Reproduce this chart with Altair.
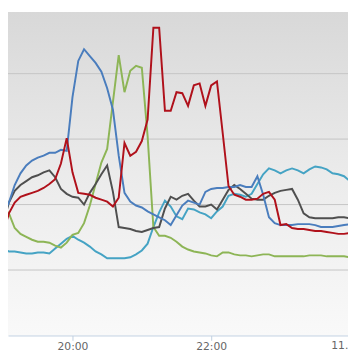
import altair as alt
import pandas as pd

# minutes after 19:00, one reading every 5 minutes (19:00 .. 24:00)
MINUTES = list(range(0, 301, 5))

BLUE = [125, 136, 154, 166, 174, 179, 182, 184, 187, 187, 190, 189, 244, 281, 293, 286,
        279, 270, 253, 231, 184, 146, 137, 133, 131, 127, 124, 121, 118, 113, 123, 133,
        138, 136, 134, 147, 150, 151, 151, 152, 152, 154, 152, 152, 163, 144, 121, 115,
        113, 113, 113, 114, 114, 114, 113, 111, 111, 111, 112, 113, 114]
CYAN = [89, 86, 86, 85, 84, 84, 85, 85, 84, 89, 94, 99, 102, 98, 95, 91,
        86, 83, 79, 79, 79, 79, 80, 83, 87, 94, 111, 126, 138, 132, 122, 119,
        130, 129, 126, 124, 120, 127, 132, 143, 145, 144, 142, 145, 155, 165, 171, 169,
        166, 169, 171, 169, 166, 170, 173, 172, 170, 166, 165, 163, 158]
GREEN = [131, 125, 110, 104, 101, 98, 96, 96, 95, 92, 90, 95, 103, 105, 115, 133,
         155, 177, 191, 239, 287, 249, 271, 276, 274, 204, 111, 102, 102, 100, 96, 91,
         88, 86, 85, 84, 82, 81, 85, 85, 83, 82, 82, 81, 82, 83, 83, 81,
         81, 81, 81, 81, 81, 82, 82, 82, 81, 81, 81, 81, 80]
RED = [105, 125, 136, 142, 144, 146, 148, 151, 155, 160, 176, 202, 167, 146, 145, 144,
       141, 139, 137, 132, 141, 197, 184, 188, 199, 221, 315, 315, 230, 230, 249, 248,
       235, 256, 258, 235, 256, 260, 207, 153, 144, 142, 139, 139, 140, 145, 147, 139,
       113, 114, 110, 109, 109, 108, 107, 107, 106, 105, 104, 104, 105]
GRAY = [115, 136, 148, 154, 158, 162, 164, 167, 169, 162, 150, 145, 142, 141, 134, 146,
        155, 165, 174, 147, 111, 110, 109, 107, 106, 108, 110, 111, 130, 142, 139, 143,
        145, 138, 132, 132, 134, 129, 139, 149, 154, 150, 145, 140, 139, 139, 143, 146,
        148, 149, 150, 139, 125, 121, 120, 120, 120, 120, 121, 121, 120]

SERIES = ["cyan", "green", "gray", "blue", "red"]
COLORS = ["#45a3c4", "#8db556", "#4f4f4f", "#4a7dbd", "#b0111b"]
VALUES = {"cyan": CYAN, "green": GREEN, "gray": GRAY, "blue": BLUE, "red": RED}

GRID = [67, 134, 201, 268]
TICKS = [60, 180]
TICK_LABELS = ["20:00", "22:00"]
EDGE_TICK = [300]
EDGE_LABEL = ["11. Jun"]

rows = []
for order, name in enumerate(SERIES):
    for m, v in zip(MINUTES, VALUES[name]):
        rows.append({"minute": m, "value": v, "series": name, "order": order})
df = pd.DataFrame(rows)

W, H = 348, 331
xscale = alt.Scale(domain=[4.2, 298.4], nice=False, zero=False)
yscale = alt.Scale(domain=[0, 331], nice=False, zero=False)

label_expr = " : ".join(
    f"datum.value == {t} ? '{l}'" for t, l in zip(TICKS, TICK_LABELS)
) + " : ''"

bg = alt.Chart(pd.DataFrame({"a": [0]})).mark_rect(
    color=alt.LinearGradient(
        gradient="linear", x1=0, y1=0, x2=0, y2=1,
        stops=[alt.GradientStop(color="#d8d8d8", offset=0),
               alt.GradientStop(color="#ebebeb", offset=0.5),
               alt.GradientStop(color="#f9f9f9", offset=1)],
    )
).encode(x=alt.value(0), x2=alt.value(W), y=alt.value(0), y2=alt.value(H))

grid = alt.Chart(pd.DataFrame({"g": GRID})).mark_rule(
    color="#c4c4c4", strokeWidth=1
).encode(y=alt.Y("g:Q", scale=yscale, axis=None))

lines = alt.Chart(df).mark_line(strokeWidth=2, clip=True).encode(
    x=alt.X("minute:Q", scale=xscale,
            axis=alt.Axis(values=TICKS, labelExpr=label_expr, title=None, grid=False,
                          domainColor="#c0d0e0", tickColor="#c0d0e0", tickSize=5,
                          labelFont="DejaVu Sans", labelFontSize=11, labelColor="#666666",
                          labelPadding=0, labelFlush=False, labelOverlap=False,
                          labelBound=False, zindex=1)),
    y=alt.Y("value:Q", scale=yscale, axis=None),
    color=alt.Color("series:N", scale=alt.Scale(domain=SERIES, range=COLORS), legend=None),
    order=alt.Order("order:Q"),
    detail="series:N",
)

edge = alt.Chart(pd.DataFrame({"t": EDGE_TICK, "label": EDGE_LABEL})).mark_text(
    font="DejaVu Sans", fontSize=11, color="#666666", align="center", baseline="top"
).encode(
    x=alt.X("t:Q", scale=xscale),
    y=alt.value(H + 5),
    text="label:N",
)

chart = alt.layer(bg, grid, lines, edge).properties(
    width=W, height=H,
    padding={"left": 0, "top": 0, "right": 0, "bottom": 25},
    autosize=alt.AutoSizeParams(type="none"),
).configure_view(stroke=None)

chart.save("out.html", embed_options={"renderer": "svg", "actions": False})
